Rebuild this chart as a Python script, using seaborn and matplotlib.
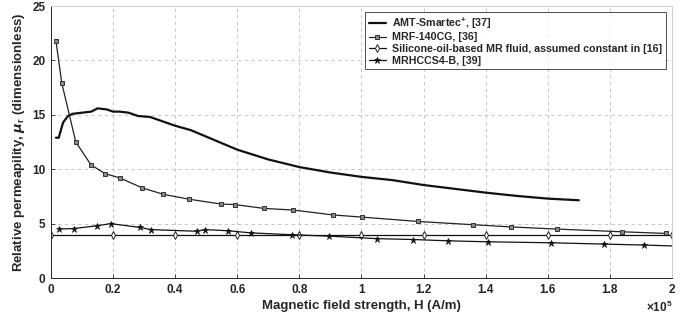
import matplotlib
matplotlib.use("Agg")
import matplotlib.pyplot as plt
import seaborn as sns
import numpy as np
from matplotlib.ticker import FuncFormatter

# ---- data (H in units of 1e5 A/m) ----
amt_h = [0.016, 0.025, 0.039, 0.055, 0.07, 0.10, 0.13, 0.15, 0.18, 0.20, 0.22, 0.25, 0.28, 0.32,
         0.35, 0.40, 0.45, 0.50, 0.55, 0.60, 0.70, 0.80, 0.90, 1.00, 1.10, 1.20, 1.30, 1.40,
         1.50, 1.60, 1.70]
amt_mu = [12.9, 12.9, 14.3, 14.9, 15.1, 15.2, 15.3, 15.6, 15.5, 15.3, 15.3, 15.2, 14.9, 14.8,
          14.5, 14.0, 13.6, 13.0, 12.4, 11.8, 10.9, 10.2, 9.7, 9.3, 9.0, 8.55, 8.2, 7.85,
          7.55, 7.3, 7.15]

mrf_h = [0.016, 0.035, 0.08, 0.129, 0.174, 0.222, 0.293, 0.361, 0.444, 0.548, 0.593, 0.686,
         0.780, 0.908, 1.002, 1.182, 1.360, 1.48, 1.63, 1.84, 1.98]
mrf_mu = [21.8, 17.9, 12.5, 10.4, 9.6, 9.2, 8.3, 7.7, 7.25, 6.8, 6.75, 6.4,
          6.25, 5.8, 5.6, 5.2, 4.9, 4.7, 4.5, 4.25, 4.1]

sil_h = [0.0, 0.2, 0.4, 0.6, 0.8, 1.0, 1.2, 1.4, 1.6, 1.8, 2.0]
sil_mu = [4.0, 4.0, 4.0, 4.0, 4.0, 4.0, 4.0, 4.0, 4.0, 4.0, 4.0]

mrh_h = [0.027, 0.074, 0.147, 0.192, 0.287, 0.322, 0.469, 0.496, 0.569, 0.644, 0.776, 0.896,
         1.05, 1.166, 1.279, 1.407, 1.61, 1.78, 1.91, 2.0]
mrh_mu = [4.5, 4.55, 4.8, 5.0, 4.65, 4.45, 4.3, 4.45, 4.35, 4.15, 3.98, 3.85,
          3.62, 3.54, 3.42, 3.33, 3.24, 3.12, 3.03, 2.95]

labels = ["AMT-Smartec$^{+}$, [37]", "MRF-140CG, [36]",
          "Silicone-oil-based MR fluid, assumed constant in [16]", "MRHCCS4-B, [39]"]
xticks = [0, 0.2, 0.4, 0.6, 0.8, 1.0, 1.2, 1.4, 1.6, 1.8, 2.0]
yticks = [0, 5, 10, 15, 20, 25]

sns.set_theme(style="white")
plt.rcParams['font.family'] = ['Liberation Sans', 'DejaVu Sans']
plt.rcParams['font.weight'] = 'bold'
plt.rcParams['mathtext.default'] = 'regular'

fig = plt.figure(figsize=(6.86, 3.22), dpi=100)
ax = fig.add_axes([0.0743, 0.1366, 0.9053, 0.8444])

sns.lineplot(x=amt_h, y=amt_mu, ax=ax, color="#111111", linewidth=1.6, label=labels[0])
sns.lineplot(x=mrf_h, y=mrf_mu, ax=ax, color="#222222", linewidth=0.9, marker="s",
             markersize=3.2, markerfacecolor="#888888", markeredgecolor="#333333",
             markeredgewidth=0.7, label=labels[1])
sns.lineplot(x=sil_h, y=sil_mu, ax=ax, color="#111111", linewidth=0.9, marker="d",
             markersize=4, markerfacecolor="white", markeredgecolor="#222222",
             markeredgewidth=0.7, label=labels[2])
sns.lineplot(x=mrh_h, y=mrh_mu, ax=ax, color="#111111", linewidth=0.9, marker="*",
             markersize=5, markerfacecolor="#111111", markeredgecolor="#111111",
             markeredgewidth=0.5, markevery=list(range(len(mrh_h) - 1)), label=labels[3])

ax.set_xlim(0, 2.0)
ax.set_ylim(0, 25)
ax.set_xticks(xticks)
ax.set_yticks(yticks)
ax.xaxis.set_major_formatter(FuncFormatter(lambda v, p: ("%g" % round(v, 2))))
ax.yaxis.set_major_formatter(FuncFormatter(lambda v, p: "%g" % v))
ax.tick_params(direction="in", length=3, width=0.6, colors="#262626", labelsize=8.5,
               top=False, right=False, bottom=True, left=True, pad=4)
for lab in ax.get_xticklabels() + ax.get_yticklabels():
    lab.set_fontweight("bold")

ax.grid(True, linestyle=(0, (4, 4)), color="#bdbdbd", linewidth=0.6)
for s in ["left", "bottom"]:
    ax.spines[s].set_color("#262626")
    ax.spines[s].set_linewidth(0.7)
for s in ["top", "right"]:
    ax.spines[s].set_color("#d0d0d0")
    ax.spines[s].set_linewidth(0.7)

ax.set_xlabel("Magnetic field strength, H (A/m)", fontsize=9.5, fontweight="bold",
              color="#262626", labelpad=3)
ax.set_ylabel(r"Relative permeapility, $\mathit{\mu}_r$ (dimensionless)", fontsize=9.5,
              fontweight="bold", color="#262626", labelpad=4)

ax.text(1.0, -0.08, r"$\times10^5$", transform=ax.transAxes, ha="right", va="top",
        fontsize=8.5, color="#262626")

leg = ax.legend(loc="upper right", bbox_to_anchor=(0.993, 0.985),
                frameon=True, fancybox=False, edgecolor="#222222", handlelength=1.6,
                handletextpad=0.6, borderpad=0.3, labelspacing=0.15, borderaxespad=0.2,
                prop={"weight": "bold", "size": 7.7})
leg.get_frame().set_linewidth(0.7)

fig.savefig("out.png", dpi=100)
